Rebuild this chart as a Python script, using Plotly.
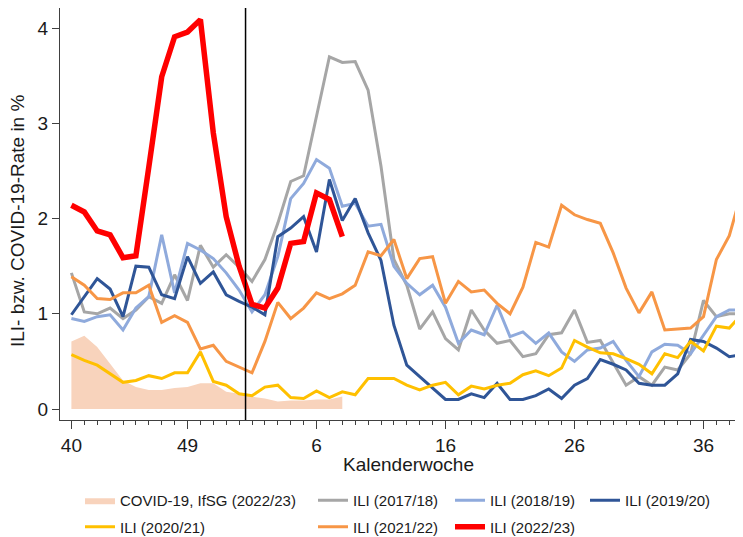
import plotly.graph_objects as go

# Calendar weeks on the x axis (season starts week 40, 2020 had 53 weeks)
weeks = list(range(40, 54)) + list(range(1, 40))
tick_weeks = [40, 49, 6, 16, 26, 36]

covid_2223 = [0.71, 0.77, 0.65, 0.48, 0.30, 0.23, 0.20, 0.20, 0.22, 0.23, 0.27,
              0.27, 0.18, 0.16, 0.13, 0.11, 0.08, 0.09, 0.09, 0.10, 0.10, 0.13]

ili_1718 = [1.43, 1.02, 1.00, 1.06, 0.95, 1.04, 1.18, 1.11, 1.41, 1.14, 1.72, 1.49,
            1.62, 1.49, 1.34, 1.57, 1.95, 2.39, 2.45, 3.07, 3.70, 3.64, 3.65, 3.35,
            2.55, 1.57, 1.30, 0.84, 1.02, 0.74, 0.62, 1.04, 0.83, 0.69, 0.72, 0.55,
            0.58, 0.78, 0.80, 1.04, 0.70, 0.72, 0.48, 0.25, 0.34, 0.25, 0.44, 0.41,
            0.58, 1.14, 0.97, 1.00, 1.00]

ili_1819 = [0.95, 0.92, 0.97, 0.99, 0.83, 1.06, 1.18, 1.83, 1.22, 1.74, 1.67, 1.58,
            1.43, 1.25, 1.02, 1.20, 1.60, 2.21, 2.37, 2.62, 2.53, 2.13, 2.16, 1.92,
            1.94, 1.50, 1.32, 1.20, 1.30, 1.07, 0.69, 0.83, 0.78, 1.09, 0.76, 0.81,
            0.69, 0.80, 0.60, 0.50, 0.62, 0.64, 0.71, 0.51, 0.34, 0.60, 0.68, 0.67,
            0.58, 0.78, 0.97, 1.04, 1.04]

ili_1920 = [0.99, 1.18, 1.37, 1.26, 0.97, 1.50, 1.49, 1.20, 1.16, 1.60, 1.32, 1.44,
            1.20, 1.13, 1.07, 0.99, 1.81, 1.90, 2.02, 1.65, 2.41, 1.98, 2.21, 1.85,
            1.56, 0.88, 0.46, 0.34, 0.22, 0.10, 0.10, 0.16, 0.12, 0.27, 0.10, 0.10,
            0.14, 0.21, 0.11, 0.25, 0.32, 0.52, 0.47, 0.41, 0.27, 0.25, 0.25, 0.37,
            0.73, 0.71, 0.64, 0.55, 0.57]

ili_2021 = [0.57, 0.51, 0.46, 0.37, 0.28, 0.30, 0.35, 0.32, 0.38, 0.38, 0.60, 0.29,
            0.25, 0.16, 0.14, 0.23, 0.25, 0.12, 0.11, 0.19, 0.12, 0.18, 0.15, 0.32,
            0.32, 0.32, 0.25, 0.20, 0.25, 0.28, 0.15, 0.24, 0.21, 0.25, 0.27, 0.36,
            0.40, 0.35, 0.43, 0.72, 0.65, 0.59, 0.58, 0.53, 0.47, 0.37, 0.58, 0.54,
            0.71, 0.61, 0.87, 0.85, 1.00]

ili_2122 = [1.39, 1.30, 1.16, 1.15, 1.22, 1.22, 1.30, 0.91, 0.98, 0.91, 0.63, 0.67,
            0.50, 0.44, 0.38, 0.71, 1.12, 0.95, 1.06, 1.22, 1.16, 1.21, 1.30, 1.65,
            1.61, 1.78, 1.37, 1.58, 1.60, 1.11, 1.34, 1.23, 1.25, 1.11, 1.00, 1.28,
            1.75, 1.70, 2.14, 2.04, 1.99, 1.95, 1.64, 1.27, 1.01, 1.23, 0.83, 0.84,
            0.85, 0.97, 1.57, 1.82, 2.30]

ili_2223 = [2.14, 2.07, 1.87, 1.83, 1.59, 1.61, 2.54, 3.49, 3.91, 3.96, 4.09, 2.90,
            2.02, 1.50, 1.10, 1.06, 1.27, 1.74, 1.76, 2.27, 2.20, 1.81]

y_ticks = [0, 1, 2, 3, 4]

pos = list(range(len(weeks)))
tick_pos = [weeks.index(w) for w in tick_weeks]
year_change = (weeks.index(53) + weeks.index(1)) / 2

FONT = "Liberation Sans, Arial, sans-serif"

# The page body has an 8px margin: lay the figure out in page pixels minus it.
OFF = 8
PAGE_W, PAGE_H = 743, 537
W, H = PAGE_W - OFF, PAGE_H - OFF

# plot area in page pixels
P_LEFT, P_TOP, P_BOTTOM = 60, 8, 420
ml = P_LEFT - OFF
mt = P_TOP - OFF
mb = PAGE_H - P_BOTTOM
mr = 0
plot_w = W - ml - mr
plot_h = H - mt - mb

def px_x(xp):  # page px -> paper x
    return (xp - P_LEFT) / plot_w

def px_y(yp):  # page px -> paper y
    return (P_BOTTOM - yp) / plot_h

px_per = 12.9
x_first = 71.4
x_lo = (P_LEFT - x_first) / px_per
x_hi = (PAGE_W - x_first) / px_per

y0_px, y_unit = 409, 95.2
y_lo = (y0_px - P_BOTTOM) / y_unit
y_hi = (y0_px - P_TOP) / y_unit

fig = go.Figure()

fig.add_trace(go.Scatter(
    x=pos[:len(covid_2223)], y=covid_2223, mode="lines", fill="tozeroy",
    line=dict(width=0, color="#F8D3BC"), fillcolor="#F8D3BC",
    name="COVID-19, IfSG (2022/23)", legend="legend", legendgroup="a"))

series = [
    ("ILI (2017/18)", ili_1718, "#A6A6A6", 3, "legend2", "b"),
    ("ILI (2018/19)", ili_1819, "#8FAADC", 3, "legend3", "c"),
    ("ILI (2019/20)", ili_1920, "#2F5597", 3, "legend4", "d"),
    ("ILI (2020/21)", ili_2021, "#FFC000", 3, "legend", "e"),
    ("ILI (2021/22)", ili_2122, "#F79646", 3, "legend2", "f"),
    ("ILI (2022/23)", ili_2223, "#FF0000", 5.5, "legend3", "g"),
]
for name, vals, col, w, lg, grp in series:
    fig.add_trace(go.Scatter(
        x=pos[:len(vals)], y=vals, mode="lines", name=name,
        line=dict(color=col, width=w), legend=lg, legendgroup=grp))

fig.add_shape(type="line", xref="x", yref="paper", x0=year_change, x1=year_change,
              y0=0, y1=1, line=dict(color="black", width=1.5))

axis_col = "#404040"

fig.update_layout(
    width=W, height=H,
    margin=dict(l=ml, r=mr, t=mt, b=mb, autoexpand=False),
    paper_bgcolor="white", plot_bgcolor="white",
    font=dict(family=FONT, size=19, color="#1a1a1a"),
    xaxis=dict(
        range=[x_lo, x_hi], showgrid=False, zeroline=False,
        showline=True, linecolor=axis_col, linewidth=1.2,
        tickmode="array", tickvals=tick_pos, ticktext=[str(w) for w in tick_weeks],
        ticks="outside", ticklen=8, tickwidth=1.2, tickcolor=axis_col,
        tickfont=dict(size=19),
        minor=dict(tickmode="linear", tick0=0, dtick=1, ticks="outside",
                   ticklen=4, tickwidth=1, tickcolor=axis_col),
    ),
    yaxis=dict(
        range=[y_lo, y_hi], showgrid=False, zeroline=False,
        showline=True, linecolor=axis_col, linewidth=1.2,
        tickmode="array", tickvals=y_ticks, ticktext=[str(v) for v in y_ticks],
        ticks="outside", ticklen=7, tickwidth=1.2, tickcolor=axis_col,
        tickfont=dict(size=19),
    ),
    showlegend=True,
)

leg_common = dict(orientation="v", xref="container", yref="container",
                  xanchor="left", yanchor="top", bgcolor="rgba(0,0,0,0)",
                  font=dict(family=FONT, size=15, color="#1a1a1a"),
                  tracegroupgap=4, itemclick=False)
ytop = (H - (484 - OFF)) / H
fig.update_layout(
    legend=dict(x=(80 - OFF) / W, y=ytop, **leg_common),
    legend2=dict(x=(313 - OFF) / W, y=ytop, **leg_common),
    legend3=dict(x=(450 - OFF) / W, y=ytop, **leg_common),
    legend4=dict(x=(585 - OFF) / W, y=ytop, **leg_common),
)

fig.add_annotation(text="Kalenderwoche", xref="paper", yref="paper",
                   x=px_x(408), y=px_y(464),
                   xanchor="center", yanchor="middle", showarrow=False,
                   font=dict(size=19))
fig.add_annotation(text="ILI- bzw. COVID-19-Rate in %", xref="paper", yref="paper",
                   x=px_x(17), y=px_y(221), textangle=-90,
                   xanchor="center", yanchor="middle", showarrow=False,
                   font=dict(size=19))

fig.write_html("out.html")
